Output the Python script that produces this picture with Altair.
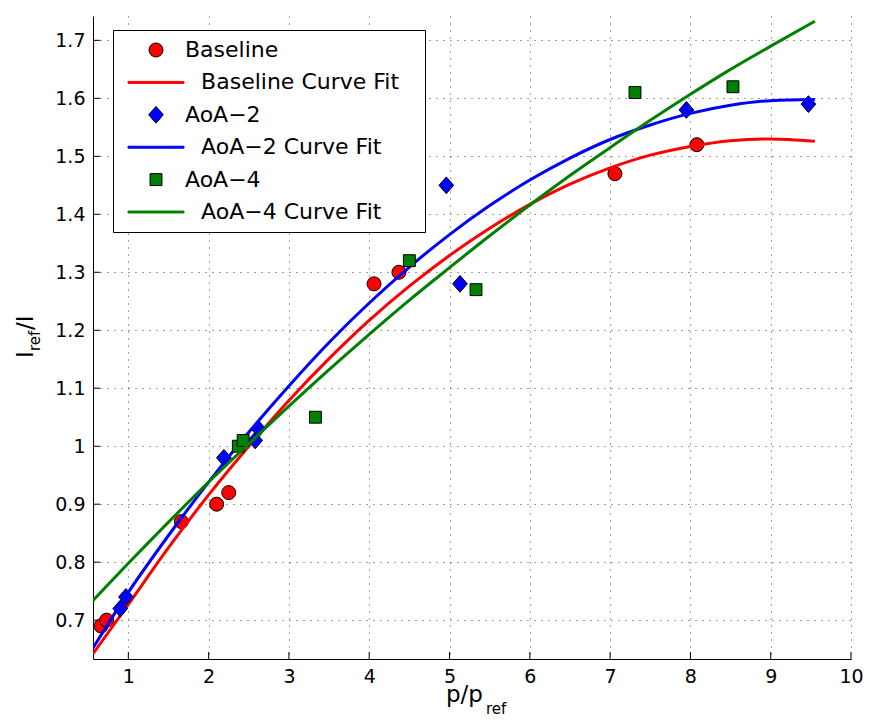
import altair as alt
import pandas as pd

# ---- data ----
base_x = [0.66, 0.73, 1.66, 2.10, 2.25, 4.06, 4.37, 7.06, 8.08]
base_y = [0.69, 0.70, 0.87, 0.90, 0.92, 1.28, 1.30, 1.47, 1.52]
aoa2_x = [0.90, 0.97, 2.19, 2.58, 2.62, 4.96, 5.13, 7.95, 9.47]
aoa2_y = [0.72, 0.74, 0.98, 1.01, 1.03, 1.45, 1.28, 1.58, 1.59]
aoa4_x = [2.37, 2.43, 3.33, 4.50, 5.33, 7.31, 8.53]
aoa4_y = [1.00, 1.01, 1.05, 1.32, 1.27, 1.61, 1.62]

fit_x = [0.56, 1.0, 1.5, 2.0, 2.5, 3.0, 3.5, 4.0, 4.5, 5.0, 5.5, 6.0, 6.5, 7.0, 7.5, 8.0, 8.5, 9.0, 9.55]
base_fit = [0.642, 0.727, 0.825, 0.916, 1.000, 1.079, 1.151, 1.217, 1.276, 1.329, 1.376, 1.417, 1.452,
            1.480, 1.502, 1.517, 1.527, 1.530, 1.526]
aoa2_fit = [0.652, 0.748, 0.846, 0.938, 1.024, 1.104, 1.179, 1.247, 1.309, 1.365, 1.415, 1.459, 1.497,
            1.529, 1.554, 1.574, 1.588, 1.596, 1.598]
aoa4_fit = [0.734, 0.798, 0.869, 0.938, 1.004, 1.069, 1.132, 1.193, 1.252, 1.308, 1.363, 1.416, 1.467,
            1.515, 1.562, 1.607, 1.650, 1.690, 1.733]

x_ticks = [1, 2, 3, 4, 5, 6, 7, 8, 9, 10]
y_ticks = [0.7, 0.8, 0.9, 1.0, 1.1, 1.2, 1.3, 1.4, 1.5, 1.6, 1.7]

SP = "\u2800"  # blank glyph (not trimmed like ordinary spaces)
entries = ["Baseline", SP + "Baseline Curve Fit" + SP,
           "AoA\u22122", SP + "AoA\u22122 Curve Fit" + SP,
           "AoA\u22124", SP + "AoA\u22124 Curve Fit" + SP]
RED, BLUE, GREEN = "#ff0000", "#0000ff", "#008000"
fill_range = [RED, RED, BLUE, BLUE, GREEN, GREEN]
stroke_range = ["#000000", RED, "#000000", BLUE, "#000000", GREEN]
LINE = "M-4,-0.14L4,-0.14L4,0.14L-4,0.14Z"
DIAMOND = "M0,-1.2L1.05,0L0,1.2L-1.05,0Z"
SQUARE = "M-0.85,-0.85L0.85,-0.85L0.85,0.85L-0.85,0.85Z"
shape_range = ["circle", LINE, DIAMOND, LINE, SQUARE, LINE]

W, H = 758, 643
xs = alt.Scale(domain=[0.56, 10], nice=False, zero=False)
ys = alt.Scale(domain=[0.633, 1.742], nice=False, zero=False)
fill_scale = alt.Scale(domain=entries, range=fill_range)
stroke_scale = alt.Scale(domain=entries, range=stroke_range)
shape_scale = alt.Scale(domain=entries, range=shape_range)

x_axis = alt.Axis(values=x_ticks, labelPadding=8, labelFlush=False, labelExpr="toString(datum.value)")
y_axis = alt.Axis(values=y_ticks, labelPadding=8, labelExpr="toString(datum.value)")


def X(f):
    return alt.X(f + ":Q", scale=xs, axis=x_axis, title=None)


def Y(f):
    return alt.Y(f + ":Q", scale=ys, axis=y_axis, title=None)


def points(xv, yv, name):
    df = pd.DataFrame({"x": xv, "y": yv, "entry": name})
    return alt.Chart(df).mark_point(filled=True, opacity=1, size=196, strokeWidth=1).encode(
        x=X("x"), y=Y("y"),
        fill=alt.Fill("entry:N", scale=fill_scale, title=None),
        stroke=alt.Stroke("entry:N", scale=stroke_scale, title=None),
        shape=alt.Shape("entry:N", scale=shape_scale, title=None),
    )


def curve(yv, name):
    df = pd.DataFrame({"x": fit_x, "y": yv, "entry": name})
    return alt.Chart(df).mark_line(strokeWidth=3, clip=True, interpolate="monotone").encode(
        x=X("x"), y=Y("y"),
        stroke=alt.Stroke("entry:N", scale=stroke_scale, title=None),
    )


xt = alt.Chart(pd.DataFrame({"v": x_ticks})).mark_rule(color="black", strokeWidth=1).encode(
    x=X("v"), y=alt.value(H), y2=alt.value(H - 7))
yt = alt.Chart(pd.DataFrame({"v": y_ticks})).mark_rule(color="black", strokeWidth=1).encode(
    y=Y("v"), x=alt.value(0), x2=alt.value(7))

one = pd.DataFrame({"a": [0]})
font = "DejaVu Sans"
xt1 = alt.Chart(one).mark_text(text="p/p", font=font, fontSize=23, align="left", baseline="alphabetic",
                               color="black").encode(x=alt.value(353), y=alt.value(686))
xt2 = alt.Chart(one).mark_text(text="ref", font=font, fontSize=15, align="left", baseline="alphabetic",
                               color="black").encode(x=alt.value(393), y=alt.value(698))
yt1 = alt.Chart(one).mark_text(text="I", font=font, fontSize=23, align="left", baseline="alphabetic",
                               angle=270, color="black").encode(x=alt.value(-60), y=alt.value(342))
yt2 = alt.Chart(one).mark_text(text="ref", font=font, fontSize=15, align="left", baseline="alphabetic",
                               angle=270, color="black").encode(x=alt.value(-53), y=alt.value(335))
yt3 = alt.Chart(one).mark_text(text="/I", font=font, fontSize=23, align="left", baseline="alphabetic",
                               angle=270, color="black").encode(x=alt.value(-60), y=alt.value(314))

chart = alt.layer(
    xt, yt,
    points(base_x, base_y, entries[0]), curve(base_fit, entries[1]),
    points(aoa2_x, aoa2_y, entries[2]), curve(aoa2_fit, entries[3]),
    points(aoa4_x, aoa4_y, entries[4]), curve(aoa4_fit, entries[5]),
    xt1, xt2, yt1, yt2, yt3,
).properties(
    width=W, height=H,
    padding={"left": 85, "top": 8, "right": 12, "bottom": 58},
    autosize=alt.AutoSizeParams(type="none"),
).configure_view(stroke=None).configure_axis(
    domainColor="black", domainWidth=1, ticks=False,
    labelFont=font, labelFontSize=19, labelColor="black",
    grid=True, gridColor="#000000", gridDash=[1, 6], gridWidth=1, gridOpacity=0.75,
).configure_legend(
    orient="none", legendX=20, legendY=14, direction="vertical",
    fillColor="white", strokeColor="black", padding=9,
    symbolSize=196, symbolStrokeWidth=1, symbolOffset=23, labelOffset=18,
    labelFont=font, labelFontSize=22, labelColor="black", labelLimit=0,
    rowPadding=10.4, cornerRadius=0,
)

chart.save("out.html", embed_options={"renderer": "svg", "actions": False})
